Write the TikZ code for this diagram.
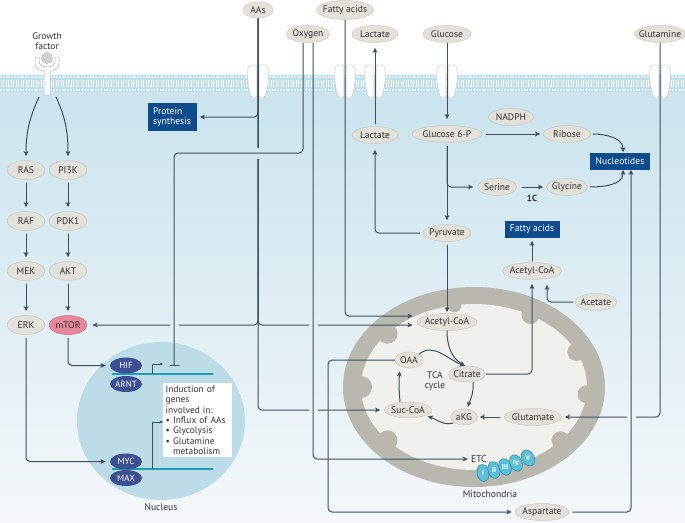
\documentclass[tikz,border=0pt]{standalone}
\usepackage{fontspec}
\setmainfont{PT Sans}
\usetikzlibrary{shapes.geometric,arrows.meta}
\definecolor{ctop}{HTML}{CBE4EE}
\definecolor{cbot}{HTML}{F4F8FA}
\definecolor{memb}{HTML}{BDDFEB}
\definecolor{ln}{HTML}{3E505C}
\definecolor{ngray}{HTML}{E2E1DA}
\definecolor{nedge}{HTML}{C9C8C0}
\definecolor{txt}{HTML}{333333}
\definecolor{navy}{HTML}{0D4C8C}
\definecolor{tfc}{HTML}{3C4F93}
\definecolor{pinkn}{HTML}{E8879C}
\definecolor{pinke}{HTML}{C96A80}
\definecolor{nucl}{HTML}{BCDDE8}
\definecolor{mring}{HTML}{B8B8AF}
\definecolor{minner}{HTML}{F0F0EC}
\definecolor{etcc}{HTML}{5DBFD8}
\definecolor{etce}{HTML}{2F8FAE}
\definecolor{dnac}{HTML}{1C9DB3}
\colorlet{gA}{cbot!14!ctop}
\colorlet{gB}{cbot!54!ctop}
\colorlet{gC}{cbot!74!ctop}
\colorlet{gD}{cbot!76!ctop}
\newcommand\mfnt{\fontsize{9.6}{11}\selectfont}
\begin{document}
\begin{tikzpicture}[x=1pt,y=-1pt,
  met/.style={ellipse, fill=ngray, draw=nedge, line width=0.5pt, inner xsep=-6pt, inner ysep=0pt, minimum height=17pt, text=txt, font=\mfnt},
  sig/.style={met, minimum width=38pt, minimum height=19pt},
  box/.style={rectangle, fill=navy, text=white, inner sep=2pt, minimum height=17pt, font=\mfnt},
  tfn/.style={ellipse, fill=tfc, text=white, inner xsep=-4pt, inner ysep=-1pt, minimum width=32pt, minimum height=16pt, font=\fontsize{9}{9}\selectfont},
  con/.style={draw=ln, line width=1pt, rounded corners=4pt},
  arr/.style={con, -{Stealth[length=5pt,width=4.5pt,inset=1pt]}},
  parr/.style={draw=ln, line width=0.6pt, -{Stealth[length=3.5pt,width=3pt]}},
  lbl/.style={text=txt, font=\mfnt, inner sep=1pt},
  chan/.style={fill=white, draw=gray!45, line width=0.4pt},
  etcn/.style={ellipse, fill=etcc, draw=etce, line width=0.6pt, inner sep=0pt, minimum width=12pt, minimum height=17pt},
  etct/.style={text=white, font=\fontsize{7}{7}\selectfont\bfseries, inner sep=0pt}
]
\useasboundingbox (0,0) rectangle (685,522);
% ---------- background ----------
\fill[white] (0,0) rectangle (685,92);
\shade[top color=ctop, bottom color=cbot, middle color=ctop!50!cbot] (0,91) rectangle (685,522);
\fill[memb] (0,75) rectangle (685,92);
\foreach \x in {1,3.5,...,685} \draw[white, line width=0.7pt] (\x,80) -- (\x,87);
\draw[white!55!memb, line width=2pt, dash pattern=on 2pt off 0.8pt] (0,77) -- (685,77);
\draw[white!55!memb, line width=2pt, dash pattern=on 2pt off 0.8pt] (0,90) -- (685,90);
% channels
\foreach \cx in {258,345,375,447,660}{
  \foreach \s in {1,-1}{
    \path[chan, shift={(\cx,0)}, xscale=\s] (-1.2,66) .. controls (-5,63.5) and (-10,65) .. (-10.5,70)
      .. controls (-11,78) and (-9,90) .. (-7,96) .. controls (-5,99) and (-2,99) .. (-1.2,96) -- cycle;
  }
}
% receptor
\path[fill=white, draw=gray!60, line width=0.5pt] (35,57) -- (35,62) .. controls (35,69) and (39,71) .. (44,71) -- (44,95) -- (50,95) -- (50,71) .. controls (55,71) and (59,69) .. (59,62) -- (59,57) -- (55,57) -- (55,61) .. controls (55,65) and (51,67) .. (47,67) .. controls (43,67) and (39,65) .. (39,61) -- (39,57) -- cycle;
\fill[gray!35, draw=gray!60, line width=0.4pt] (47,58) circle[radius=5.5pt];
\node[lbl, align=center, font=\fontsize{9.5}{10.5}\selectfont] (gf) at (47,41) {Growth\\factor};
\coordinate (gfl) at (39,97);
\coordinate (gfr) at (56,97);
% nucleus
\fill[nucl] (161,421) ellipse[x radius=84pt, y radius=79pt];
\node[lbl] (nucleus) at (161,507) {Nucleus};
% mitochondria
\fill[mring] (474,387) ellipse[x radius=131pt, y radius=100pt];
\fill[minner] (474,387) ellipse[x radius=113pt, y radius=83pt];
\foreach \a/\r in {180/11, 140/10, 220/10, 60/9, 25/9, -5/9, -40/9, 100/7}
  \fill[mring] (474,387) ++(\a:113pt and 83pt) circle[radius=\r pt];
\node[lbl] (mitolab) at (490,494) {Mitochondria};
% ---------- nodes ----------
\node[met, minimum width=30pt, minimum height=16pt] (aas) at (258,10) {AAs};
\node[met, minimum width=57pt, minimum height=19pt] (fae) at (345,10) {Fatty acids};
\node[met, minimum width=43pt] (oxy) at (308,34) {Oxygen};
\node[met, minimum width=46pt] (lace) at (375,34) {Lactate};
\node[met, minimum width=48pt] (glu) at (447,34) {Glucose};
\node[met, minimum width=51pt] (gln) at (660,34) {Glutamine};
\node[met, minimum width=46pt] (lacc) at (375,135) {Lactate};
\node[met, minimum width=70pt] (g6p) at (447,134) {Glucose 6-P};
\node[met, minimum width=45pt] (nadph) at (511,117) {NADPH};
\node[met, minimum width=47pt] (rib) at (567,134) {Ribose};
\node[box, minimum width=60pt] (nuc) at (620,161) {Nucleotides};
\node[met, minimum width=39pt] (ser) at (497,187) {Serine};
\node[met, minimum width=41pt] (gly) at (567,187) {Glycine};
\node[lbl, font=\fontsize{9}{10}\selectfont\bfseries] (onec) at (532,198) {1C};
\node[met, minimum width=48pt] (pyr) at (447,233) {Pyruvate};
\node[box, minimum width=55pt] (fab) at (532,229) {Fatty acids};
\node[met, minimum width=59pt] (acc) at (532,271) {Acetyl-CoA};
\node[met, minimum width=42pt] (ace) at (596,302) {Acetate};
\node[box, align=left, minimum width=49pt, minimum height=28pt, inner sep=1.5pt, font=\fontsize{9.6}{10.5}\selectfont] (prot) at (172,117) {Protein\\synthesis};
\node[met, minimum width=60pt] (acm) at (447,322) {Acetyl-CoA};
\node[met, minimum width=37pt, minimum height=16pt] (cit) at (467,374) {Citrate};
\node[met, minimum width=28pt, minimum height=16pt] (oaa) at (409,360) {OAA};
\node[met, minimum width=47pt, minimum height=16pt] (suc) at (408,410) {Suc-CoA};
\node[met, minimum width=27pt, minimum height=16pt] (akg) at (464,417) {aKG};
\node[lbl, align=center, font=\fontsize{9.5}{10}\selectfont] (tca) at (435,381) {TCA\\cycle};
\node[met, minimum width=57pt] (glm) at (533,417) {Glutamate};
\node[met, minimum width=54pt] (asp) at (542,512) {Aspartate};
\node[lbl, anchor=west] (etc) at (470,459) {ETC};
\node[etcn, rotate=10] (c1) at (483,473) {};
\node[etcn, rotate=15] (c2) at (494,470) {};
\node[etcn, rotate=20] (c3) at (505,467) {};
\node[etcn, rotate=25] (c4) at (516,463) {};
\node[etcn, rotate=30] (c5) at (528,458) {};
\node[etct] (t1) at (c1) {I};
\node[etct] (t2) at (c2) {II};
\node[etct] (t3) at (c3) {III};
\node[etct] (t4) at (c4) {IV};
\node[etct] (t5) at (c5) {V};
% signalling
\node[sig] (ras) at (26,170) {RAS};
\node[sig] (pik) at (68,170) {PI3K};
\node[sig] (raf) at (26,221) {RAF};
\node[sig] (pdk) at (68,221) {PDK1};
\node[sig] (mek) at (26,271) {MEK};
\node[sig] (akt) at (68,271) {AKT};
\node[sig] (erk) at (26,325) {ERK};
\node[sig, fill=pinkn, draw=pinke] (mtor) at (68,325) {mTOR};
% nucleus content
\coordinate (dna1a) at (112,374); \coordinate (dna1b) at (213,374);
\coordinate (dna2a) at (112,469); \coordinate (dna2b) at (213,469);
\draw[dnac, line width=1.1pt] (dna1a) -- (dna1b);
\draw[dnac, line width=1.1pt] (dna2a) -- (dna2b);
\node[tfn] (hif) at (126,365.5) {HIF};
\node[tfn] (arnt) at (126,384) {ARNT};
\node[tfn] (myc) at (126,461.5) {MYC};
\node[tfn] (max) at (126,478) {MAX};
\coordinate (p1) at (152,374); \coordinate (p1e) at (163,364);
\coordinate (p2) at (152,469); \coordinate (p2e) at (163,422);
\draw[parr] (p1) |- (p1e);
\draw[parr] (p2) |- (p2e);
\node[fill=white, inner sep=2.5pt, text width=64pt, align=left, anchor=north west, text=txt, font=\fontsize{9.4}{10.4}\selectfont] (ind) at (163,383) {Induction of\\genes\\involved in:\\\textbullet\ Influx of AAs\\\textbullet\ Glycolysis\\\textbullet\ Glutamine\\\phantom{\textbullet\ }metabolism};
% ---------- connectors ----------
% growth factor signalling
\draw[arr, shorten >=4pt] (gfl) to[out=-115,in=90] (ras.north);
\draw[arr, shorten >=4pt] (gfr) to[out=-65,in=90] (pik.north);
\draw[arr, shorten <=3pt, shorten >=4pt] (ras.south) -- (raf.north);
\draw[arr, shorten <=3pt, shorten >=4pt] (pik.south) -- (pdk.north);
\draw[arr, shorten <=3pt, shorten >=4pt] (raf.south) -- (mek.north);
\draw[arr, shorten <=3pt, shorten >=4pt] (pdk.south) -- (akt.north);
\draw[arr, shorten <=3pt, shorten >=4pt] (mek.south) -- (erk.north);
\draw[arr, shorten <=3pt, shorten >=4pt] (akt.south) -- (mtor.north);
\draw[arr, shorten <=3pt] (mtor.south) |- ([xshift=-4pt]hif.west);
\draw[arr, shorten <=3pt] (erk.south) |- ([xshift=-4pt]myc.west);
% amino acids
\draw[arr, shorten >=4pt] (aas.south) |- (suc.west);
\draw[arr] (aas.south) |- ([xshift=3pt]prot.east);
\draw[arr] (aas.south) |- ([xshift=5pt]mtor.east);
\draw[arr] (aas.south) |- ([xshift=-4pt,yshift=-3pt]acm.west);
% fatty acids
\draw[arr] (fae.south) |- ([xshift=-4pt,yshift=6pt]acm.west);
% glutamine
\draw[arr, shorten >=3pt] (gln.south) |- (glm.east);
\draw[arr, shorten <=4pt, shorten >=2pt] (glm.west) -- (akg.east);
% crossing gaps
\fill[gA] (255,147.5) rectangle (261,158.5);
\fill[gB] (169.5,322) rectangle (178.5,328);
\fill[gB] (308.5,322) rectangle (317.5,328);
\fill[gC] (308.5,407) rectangle (317.5,413);
\fill[gD] (626.5,414) rectangle (635.5,420);
% oxygen
\coordinate (inhb) at (174,153);
\coordinate (inh) at (174,366);
\draw[con, -{Bar[width=9pt,line width=1pt]}] ([xshift=-5pt]oxy.south) |- (inhb) -- (inh);
\draw[arr] ([xshift=5pt]oxy.south) |- ([xshift=-2pt]etc.west);
% glucose / lactate
\draw[arr, shorten >=6pt] (glu.south) -- (g6p.north);
\draw[arr, shorten <=4pt, shorten >=3pt] (g6p.east) -- (rib.west);
\draw[arr, shorten <=3pt, shorten >=4pt] (g6p.south) -- (pyr.north);
\draw[arr, shorten <=3pt, shorten >=4pt] (g6p.south) |- (ser.west);
\draw[arr, shorten <=5pt, shorten >=3pt] (ser.east) -- (gly.west);
\draw[arr, shorten <=2pt] (rib.east) to[out=0,in=90] ([xshift=3pt]nuc.north);
\draw[arr, shorten <=2pt] (gly.east) to[out=0,in=-90] ([xshift=3pt]nuc.south);
\draw[arr, shorten <=3pt, shorten >=6pt] (pyr.west) -| (lacc.south);
\draw[arr, shorten <=2pt, shorten >=5pt] (lacc.north) -- (lace.south);
\draw[arr, shorten <=3pt, shorten >=1pt] (pyr.south) -- (acm.north);
% citrate / acetate
\draw[arr, shorten >=4pt] (cit.east) -| (acc.south);
\draw[arr, shorten <=1pt, shorten >=3pt] (acc.north) -- (fab.south);
\draw[arr, shorten <=2pt, shorten >=5pt] (ace.west) -| ([xshift=15pt]acc.south);
% aspartate
\coordinate (aspc) at (328,512);
\draw[arr, shorten >=3pt] (oaa.west) -| (aspc) -- (asp.west);
\draw[arr, shorten <=3pt] (asp.east) -| ([xshift=11pt]nuc.south);
% TCA cycle
\draw[arr] (acm.south) to[out=-90,in=150] ([xshift=-2pt]cit.north);
\draw[arr] (oaa.north east) to[out=40,in=160] ([xshift=-2pt]cit.north);
\draw[arr, shorten >=2pt] ([xshift=6pt]cit.south) to[out=-85,in=70] ([xshift=3pt]akg.north);
\draw[arr, shorten <=1pt, shorten >=1pt] (akg.south west) to[out=195,in=-20] ([xshift=2pt]suc.south east);
\draw[arr, shorten >=3pt] ([xshift=-8pt]suc.north) to[out=95,in=-95] ([xshift=-9pt]oaa.south);
\end{tikzpicture}
\end{document}
